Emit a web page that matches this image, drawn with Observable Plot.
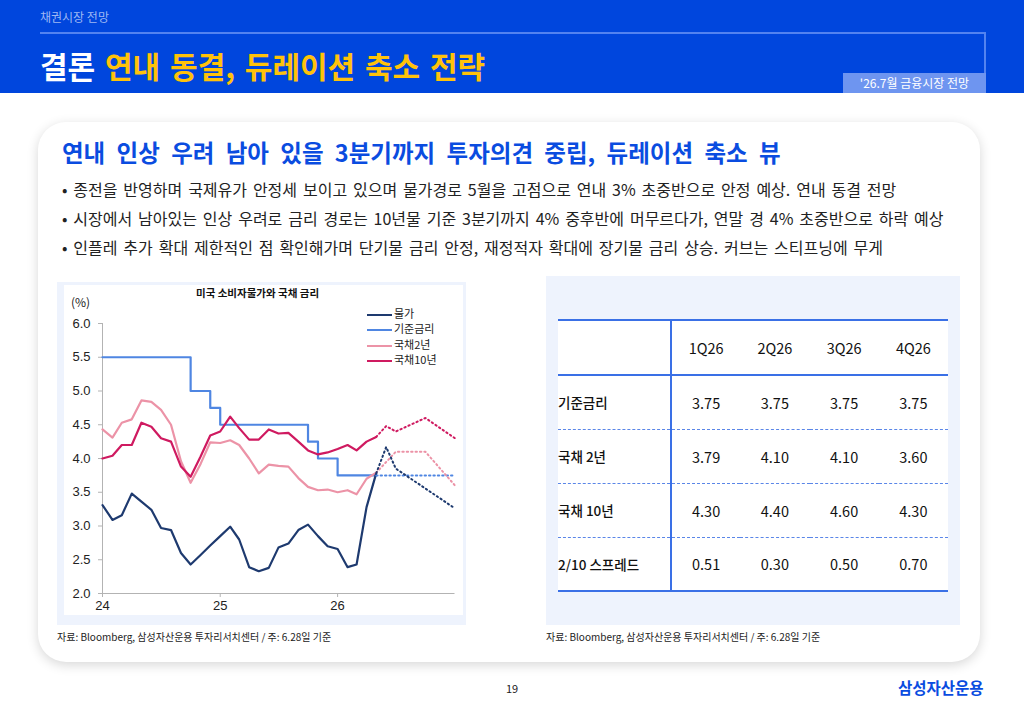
<!DOCTYPE html>
<html><head><meta charset="utf-8">
<script src="https://cdn.jsdelivr.net/npm/d3@7"></script>
<script src="https://cdn.jsdelivr.net/npm/@observablehq/plot@0.6"></script>
<style>
body{margin:0;width:1024px;height:709px;position:relative;background:#fff;font-family:"Noto Sans CJK KR","Noto Sans",sans-serif;overflow:hidden;color:#222}
.abs{position:absolute;white-space:nowrap}
.bul{font-size:16px;color:#222;word-spacing:2.3px}
.leg{position:absolute;font-size:11px;color:#222;line-height:14px}
.leg i{display:inline-block;width:25px;height:2px;vertical-align:middle;margin-right:2px}
table{border-collapse:collapse;table-layout:fixed}
td{padding:0;text-align:center;font-size:14.5px;color:#111;background:#fff}
</style></head><body>
<div class="abs" style="left:0;top:0;width:1024px;height:93px;background:#0046dd"></div>
<div class="abs" style="left:40px;top:8px;font-size:12px;color:#9fb8f3">채권시장 전망</div>
<div class="abs" style="left:40px;top:32px;width:945px;height:2px;background:#5383f0"></div>
<div class="abs" style="left:984px;top:32px;width:2px;height:42px;background:#5383f0"></div>
<div class="abs" style="left:40px;top:46px;font-size:30px;font-weight:700;color:#fff;line-height:38px;word-spacing:3px">결론 <span style="color:#ffc20a;font-weight:700">연내 동결, 듀레이션 축소 전략</span></div>
<div class="abs" style="left:843px;top:73px;width:143px;height:20px;background:#6e95f0;color:#fff;font-size:12px;text-align:center;line-height:20px">'26.7월 금융시장 전망</div>

<div class="abs" style="left:38px;top:122px;width:942px;height:540px;border-radius:28px;background:#fff;box-shadow:0 3px 12px rgba(0,0,0,0.16)"></div>
<div class="abs" style="left:62px;top:136px;font-size:23.5px;font-weight:700;color:#0a4ce0;line-height:32px;word-spacing:6px">연내 인상 우려 남아 있을 3분기까지 투자의견 중립, 듀레이션 축소 뷰</div>
<div class="abs bul" style="left:62px;top:177px;line-height:24px">• 종전을 반영하며 국제유가 안정세 보이고 있으며 물가경로 5월을 고점으로 연내 3% 초중반으로 안정 예상. 연내 동결 전망</div>
<div class="abs bul" style="left:62px;top:206px;line-height:24px">• 시장에서 남아있는 인상 우려로 금리 경로는 10년물 기준 3분기까지 4% 중후반에 머무르다가, 연말 경 4% 초중반으로 하락 예상</div>
<div class="abs bul" style="left:62px;top:235px;line-height:24px">• 인플레 추가 확대 제한적인 점 확인해가며 단기물 금리 안정, 재정적자 확대에 장기물 금리 상승. 커브는 스티프닝에 무게</div>

<div class="abs" style="left:57px;top:282px;width:409px;height:343px;background:#eef3fd"></div>
<div id="chart" class="abs" style="left:64px;top:285px;width:399px;height:330px"></div>
<div class="abs" style="left:196px;top:286px;font-size:10.5px;font-weight:700;color:#111;line-height:14px">미국 소비자물가와 국채 금리</div>
<div class="abs" style="left:71px;top:294px;font-size:12px;color:#222;line-height:16px">(%)</div>
<div id="legend"></div>

<div class="abs" style="left:546px;top:276px;width:414px;height:349px;background:#eef3fd"></div>
<div id="tbl" class="abs" style="left:558px;top:319px"></div>

<div class="abs" style="left:57px;top:630px;font-size:10px;color:#222;line-height:14px">자료: Bloomberg, 삼성자산운용 투자리서치센터 / 주: 6.28일 기준</div>
<div class="abs" style="left:546px;top:630px;font-size:10px;color:#222;line-height:14px">자료: Bloomberg, 삼성자산운용 투자리서치센터 / 주: 6.28일 기준</div>
<div class="abs" style="left:506px;top:680px;font-size:11px;color:#222;line-height:16px">19</div>
<div class="abs" style="left:898px;top:677px;font-size:15.5px;font-weight:700;color:#0a4ce0;line-height:20px">삼성자산운용</div>

<script>
// ---- chart data ----
const months = ["2024-01","2024-02","2024-03","2024-04","2024-05","2024-06","2024-07","2024-08","2024-09","2024-10","2024-11","2024-12",
  "2025-01","2025-02","2025-03","2025-04","2025-05","2025-06","2025-07","2025-08","2025-09","2025-10","2025-11","2025-12",
  "2026-01","2026-02","2026-03","2026-04","2026-05"];
const cpi = [3.31,3.09,3.16,3.48,3.36,3.24,2.97,2.94,2.60,2.43,2.57,2.71,2.85,2.99,2.80,2.39,2.33,2.38,2.68,2.74,2.94,3.02,2.85,2.70,2.66,2.39,2.43,3.28,3.78];
const policyRate = [5.5,5.5,5.5,5.5,5.5,5.5,5.5,5.5,5.5,5.0,5.0,4.75,4.5,4.5,4.5,4.5,4.5,4.5,4.5,4.5,4.5,4.25,4.0,4.0,3.75,3.75,3.75,3.75,3.75];
const ust2 = [4.43,4.31,4.53,4.58,4.86,4.84,4.72,4.50,3.96,3.64,3.92,4.24,4.23,4.27,4.20,4.00,3.78,3.91,3.89,3.88,3.71,3.58,3.53,3.54,3.50,3.53,3.47,3.70,3.79];
const ust10 = [4.00,4.04,4.20,4.20,4.53,4.47,4.30,4.25,3.88,3.73,4.03,4.34,4.40,4.62,4.45,4.28,4.28,4.43,4.37,4.38,4.25,4.12,4.06,4.09,4.14,4.20,4.12,4.25,4.32];
// forecast (dotted)
const fcMonths = ["2026-05","2026-06","2026-07","2026-10","2027-01"];
const cpiFc    = [3.78, 4.17, 3.85, null, 3.26];
const policyFc = [3.75, null, 3.75, 3.75, 3.75];
const ust2Fc   = [3.79, null, 4.10, 4.10, 3.60];
const ust10Fc  = [4.32, 4.48, 4.40, 4.60, 4.30];
const xDomain = ["2024-01","2027-01"];
const xTicks = ["2024-01","2025-01","2026-01"];
const yTicks = [2.0,2.5,3.0,3.5,4.0,4.5,5.0,5.5,6.0];
const yDomain = [2,6];
const seriesNames = ["물가","기준금리","국채2년","국채10년"];
const seriesColors = ["#1e3a6f","#4f86e2","#ec93a7","#cf1a60"];

// ---- table data ----
const quarters = ["1Q26","2Q26","3Q26","4Q26"];
const rowLabels = ["기준금리","국채 2년","국채 10년","2/10 스프레드"];
const rowPolicy = ["3.75","3.75","3.75","3.75"];
const row2y = ["3.79","4.10","4.10","3.60"];
const row10y = ["4.30","4.40","4.60","4.30"];
const rowSpread = ["0.51","0.30","0.50","0.70"];

const parse = d3.utcParse("%Y-%m");
const actual = months.map((m,i)=>({date:parse(m), cpi:cpi[i], policy:policyRate[i], u2:ust2[i], u10:ust10[i]}));
const fc = (arr)=>fcMonths.map((m,i)=>({date:parse(m), v:arr[i]})).filter(d=>d.v!=null);
const dash = "1.4,3";

const chart = Plot.plot({
  width: 399, height: 330,
  marginLeft: 38, marginRight: 8.5, marginTop: 38, marginBottom: 22,
  style: {background:"#fff", fontFamily:"'Liberation Sans', Arial, sans-serif", fontSize:"13px", color:"#222"},
  x: {type:"utc", domain: xDomain.map(parse)},
  y: {domain: yDomain},
  marks: [
    Plot.axisY({ticks: yTicks, tickFormat: d=>d.toFixed(1), tickSize:4, tickPadding:8, stroke:"#b3b3b3", fill:"#222", label:null}),
    Plot.axisX({ticks: xTicks.map(parse), tickFormat: d3.utcFormat("%y"), tickSize:4, tickPadding:3, stroke:"#b3b3b3", fill:"#222", label:null}),
    Plot.ruleX([parse(xDomain[0])], {stroke:"#b3b3b3"}),
    Plot.ruleY([yDomain[0]], {stroke:"#b3b3b3"}),
    Plot.line(actual, {x:"date", y:"policy", curve:"step-after", stroke:seriesColors[1], strokeWidth:2.2}),
    Plot.line(actual, {x:"date", y:"u2", stroke:seriesColors[2], strokeWidth:2.2}),
    Plot.line(actual, {x:"date", y:"u10", stroke:seriesColors[3], strokeWidth:2.2}),
    Plot.line(actual, {x:"date", y:"cpi", stroke:seriesColors[0], strokeWidth:2.2}),
    Plot.line(fc(policyFc), {x:"date", y:"v", stroke:seriesColors[1], strokeWidth:2, strokeDasharray:dash}),
    Plot.line(fc(ust2Fc), {x:"date", y:"v", stroke:seriesColors[2], strokeWidth:2, strokeDasharray:dash}),
    Plot.line(fc(ust10Fc), {x:"date", y:"v", stroke:seriesColors[3], strokeWidth:2, strokeDasharray:dash}),
    Plot.line(fc(cpiFc), {x:"date", y:"v", stroke:seriesColors[0], strokeWidth:2, strokeDasharray:dash})
  ]
});
document.getElementById("chart").appendChild(chart);

// legend
const leg = document.getElementById("legend");
seriesNames.forEach((n,i)=>{
  const d = document.createElement("div");
  d.className = "leg";
  d.style.left = "367px";
  d.style.top = (306 + i*15.3) + "px";
  d.innerHTML = `<i style="background:${seriesColors[i]}"></i>${n}`;
  leg.appendChild(d);
});

// table
const rows = [rowPolicy, row2y, row10y, rowSpread];
let h = `<table style="width:390px">
<colgroup><col style="width:113px"><col><col><col><col></colgroup>
<tr style="height:55px;border-top:2px solid #3a70e6;border-bottom:2px solid #3a70e6"><td style="border-right:2px solid #3a70e6"></td>${quarters.map(q=>`<td>${q}</td>`).join("")}</tr>`;
rows.forEach((r,i)=>{
  const last = i===rows.length-1;
  h += `<tr style="height:54px;border-bottom:${last?"2px solid #3a70e6":"1px dashed #5a86e8"}"><td style="text-align:left;font-weight:500;font-size:13.5px;border-right:2px solid #3a70e6">${rowLabels[i]}</td>${r.map(v=>`<td>${v}</td>`).join("")}</tr>`;
});
h += `</table>`;
document.getElementById("tbl").innerHTML = h;
</script>
</body></html>
